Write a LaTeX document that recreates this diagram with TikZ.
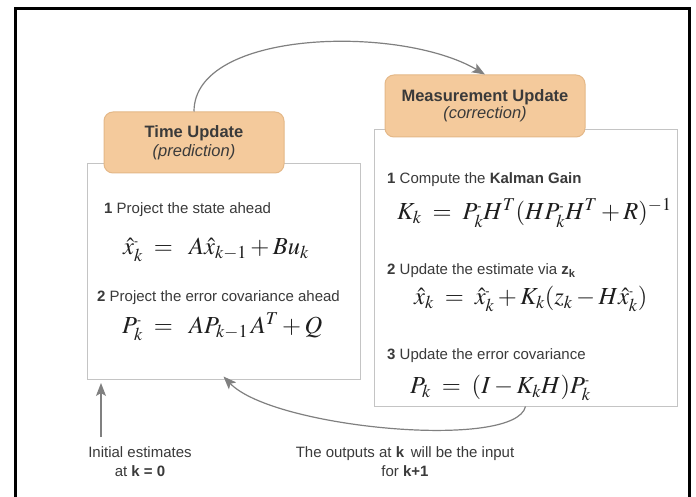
\documentclass[tikz,border=0pt]{standalone}
\usepackage{mathptmx}
\usepackage[no-math]{fontspec}
\setmainfont{Liberation Sans}
\usetikzlibrary{arrows.meta}
\definecolor{orfill}{RGB}{244,202,156}
\definecolor{ordraw}{RGB}{228,184,136}
\definecolor{boxdraw}{RGB}{196,196,196}
\definecolor{arrgray}{RGB}{128,128,128}
\definecolor{txt}{RGB}{58,58,58}
\definecolor{eqc}{RGB}{30,30,30}
\newcommand{\sm}{{\mbox{\fontsize{12}{12}\selectfont -}}}
\tikzset{
  wbox/.style={draw=boxdraw, line width=1pt, fill=white, inner sep=0pt},
  obox/.style={draw=ordraw, line width=1pt, fill=orfill, rounded corners=9pt, inner sep=0pt, align=center, text=txt},
  body/.style={anchor=west, inner sep=0pt, text=txt, font=\fontsize{15}{18}\selectfont},
  eqn/.style={anchor=west, inner sep=0pt, text=eqc, font=\fontsize{24.5}{30}\selectfont},
  note/.style={inner sep=0pt, align=center, text=txt, font=\fontsize{15}{19}\selectfont},
  arr/.style={draw=arrgray, line width=1.2pt, -{Stealth[length=13pt,width=10pt,inset=3pt]}}
}
\begin{document}
\begin{tikzpicture}[x=1pt,y=-1pt]
\useasboundingbox (0,0) rectangle (696,497);
\fill[white] (0,0) rectangle (696,497);
\draw[line width=3pt] (15,497) -- (15,9) -- (689,9) -- (689,497);

% white panels
\node[wbox, minimum width=273pt, minimum height=215pt] (lb) at (223.5,271.5) {};
\node[wbox, minimum width=303pt, minimum height=276pt] (rb) at (525.5,268) {};

% orange headers
\node[obox, minimum width=180pt, minimum height=61pt] (tu) at (194,142.5)
  {{\fontsize{16.5}{20}\selectfont\bfseries Time Update}\\[3pt]{\fontsize{16.5}{20}\selectfont\itshape (prediction)}};
\node[obox, minimum width=200pt, minimum height=62pt] (mu) at (485,106)
  {{\fontsize{16.5}{20}\selectfont\bfseries Measurement Update}\\[1pt]{\fontsize{16.5}{20}\selectfont\itshape (correction)}};

% left panel content
\node[body] (t1) at (104,210) {\textbf{1} Project the state ahead};
\node[eqn] (e1) at (123,250) {$\hat{x}^{\sm}_{k} \;=\;\; A\hat{x}_{k-1} + Bu_{k}$};
\node[body] (t2) at (97,298) {\textbf{2} Project the error covariance ahead};
\node[eqn] (e2) at (122,327) {$P^{\sm}_{k} \;=\;\; AP_{k-1}\,A^{T} + Q$};

% right panel content
\node[body] (r1) at (387,180) {\textbf{1} Compute the \textbf{Kalman Gain}};
\node[eqn] (f1) at (397,213) {$K_{k} \;=\; P^{\sm}_{k}H^{T}(HP^{\sm}_{k}H^{T} + R)^{-1}$};
\node[body] (r2) at (387,271) {\textbf{2} Update the estimate via \textbf{z\textsubscript{k}}};
\node[eqn] (f2) at (414,299) {$\hat{x}_{k} \;=\; \hat{x}^{\sm}_{k} + K_{k}(z_{k} - H\hat{x}^{\sm}_{k})$};
\node[body] (r3) at (387,356) {\textbf{3} Update the error covariance};
\node[eqn] (f3) at (410,388) {$P_{k} \;=\; (I - K_{k}H)P^{\sm}_{k}$};

% bottom notes
\node[note] (init) at (140,462) {Initial estimates\\at \textbf{k = 0}};
\node[note] (outs) at (405,462) {The outputs at \textbf{k}\, will be the input\\for \textbf{k+1}};

% connectors
\draw[arr] (tu.north) .. controls +(0,-82) and +(-85,-50) .. (mu.north);
\draw[arr] (rb.south) .. controls +(-10,44) and +(50,52) .. ([yshift=3pt]lb.south);
\coordinate (initTail) at (101,437);
\coordinate (initTip) at (101,383);
\draw[arr] (initTail) -- (initTip);
\end{tikzpicture}
\end{document}
